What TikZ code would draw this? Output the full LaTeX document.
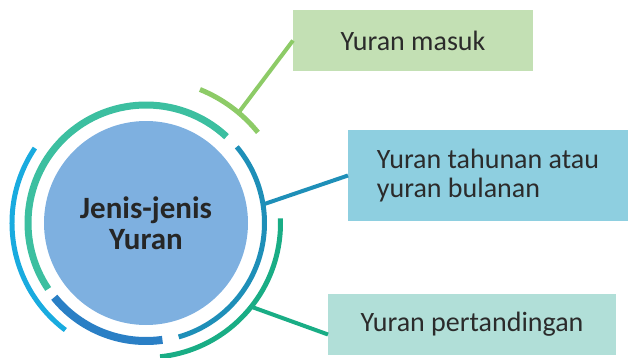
\documentclass[tikz,border=0pt]{standalone}
\usepackage{fontspec}
\setmainfont{Carlito}
\usetikzlibrary{calc}
\definecolor{hubfill}{HTML}{7EB0E0}
\definecolor{ringteal}{HTML}{3CBFA0}
\definecolor{ringdark}{HTML}{2A7FC5}
\definecolor{ringsea}{HTML}{1E8FB8}
\definecolor{ringsky}{HTML}{19ABDF}
\definecolor{ringgreen}{HTML}{19AD85}
\definecolor{ringlime}{HTML}{8DCB67}
\definecolor{boxlime}{HTML}{C3E0B4}
\definecolor{boxsea}{HTML}{8ECFE0}
\definecolor{boxmint}{HTML}{B1DFD8}
\definecolor{textgray}{HTML}{2B2B2B}
\tikzset{
hub/.style={circle,fill=hubfill,minimum size=204pt,inner sep=0pt,align=center,font=\bfseries\fontsize{31}{31}\selectfont,text=black!85},
feebox/.style={inner sep=0pt,outer sep=0pt,align=left,font=\fontsize{28}{29}\selectfont,text=textgray},
ring/.style={line width=5pt},
link/.style={line width=4pt}
}
\begin{document}
\begin{tikzpicture}[x=1pt,y=1pt]
\useasboundingbox (0,0) rectangle (629,357);
\node[hub](jenis) at (146,134){Jenis-jenis\\Yuran};
\node[feebox,fill=boxlime,minimum width=240pt,minimum height=61pt](masuk) at (413,316.5){Yuran masuk};
\node[feebox,fill=boxsea,minimum width=280pt,minimum height=91pt](tahunan) at (488,181.5){Yuran tahunan atau\\yuran bulanan};
\node[feebox,fill=boxmint,minimum width=288pt,minimum height=61pt](pert) at (472,32.5){Yuran pertandingan};
% inner ring
\draw[ring,line width=7pt,ringteal]($(jenis.center)+(47:118)$) arc[start angle=47,end angle=214,radius=118];
\draw[ring,line width=8pt,ringdark]($(jenis.center)+(219:118)$) arc[start angle=219,end angle=278,radius=118];
\draw[ring,ringsea]($(jenis.center)+(40:118.5)$) arc[start angle=40,end angle=-74,radius=118.5];
% outer ring
\draw[ring,ringsky]($(jenis.center)+(146:134)$) arc[start angle=146,end angle=233,radius=134];
\draw[ring,ringgreen]($(jenis.center)+(2:134.5)$) arc[start angle=2,end angle=-84,radius=134.5];
\draw[ring,ringlime]($(jenis.center)+(39:144)$) arc[start angle=39,end angle=68,radius=144];
% links
\draw[link,ringlime]($(jenis.center)+(50:144)$)--(masuk.west);
\draw[link,ringsea]($(jenis.center)+(9:118.5)$)--(tahunan.west);
\draw[link,ringgreen]($(jenis.center)+(-38.5:134.5)$)--([yshift=-10pt]pert.west);
\end{tikzpicture}
\end{document}
